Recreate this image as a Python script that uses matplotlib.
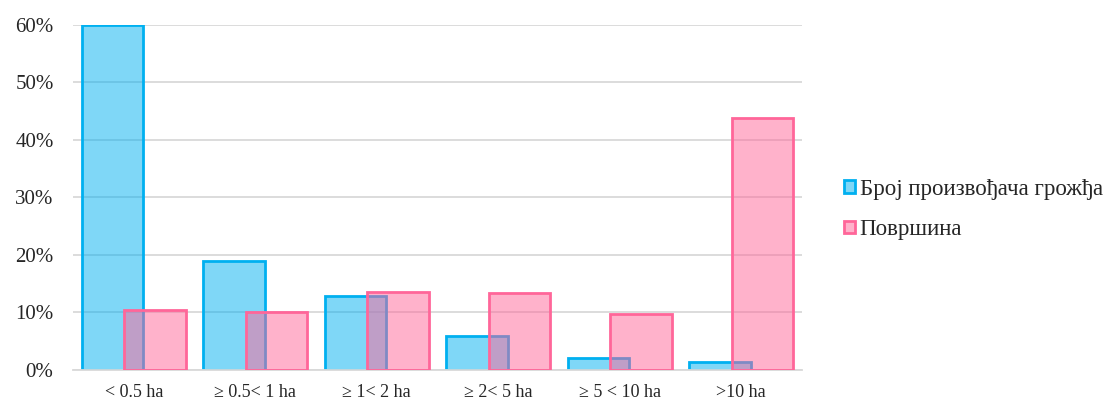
import matplotlib
matplotlib.use("Agg")
import matplotlib.pyplot as plt
import numpy as np
from matplotlib.ticker import FuncFormatter

categories = ["< 0.5 ha", "≥ 0.5< 1 ha", "≥ 1< 2 ha", "≥ 2< 5 ha", "≥ 5 < 10 ha", ">10 ha"]
producers = [60.0, 18.9, 12.9, 5.9, 2.0, 1.4]
area = [10.4, 10.1, 13.6, 13.3, 9.8, 43.8]
series_names = ["Број произвођача грожђа", "Површина"]

plt.rcParams["font.family"] = ["Liberation Serif", "DejaVu Serif"]

fig = plt.figure(figsize=(11.07, 3.99), dpi=100)
ax = fig.add_axes([0.066, 0.0727, 0.6585, 0.8653])

x = np.arange(len(categories))
width = 0.506
offset = 0.175

ax.bar(x - offset, producers, width, color=(0/255, 176/255, 240/255, 0.5),
       edgecolor="#00B0F0", linewidth=2, label=series_names[0], zorder=2)
ax.bar(x + offset, area, width, color=(1.0, 102/255, 153/255, 0.5),
       edgecolor="#FF6699", linewidth=2, label=series_names[1], zorder=3)

ax.set_xlim(-0.5, len(categories) - 0.5)
ax.set_ylim(0, 60)
ax.set_yticks(np.arange(0, 61, 10))
ax.yaxis.set_major_formatter(FuncFormatter(lambda v, p: f"{v:.0f}%"))
ax.set_xticks(x)
ax.set_xticklabels(categories, fontsize=13, color="#262626")
ax.tick_params(axis="y", labelsize=15, length=0, pad=14, labelcolor="#262626")
ax.tick_params(axis="x", length=0, pad=10)
ax.grid(axis="y", color="#D9D9D9", linewidth=1.3, zorder=0)
ax.set_axisbelow(True)
for s in ["top", "right", "left"]:
    ax.spines[s].set_visible(False)
ax.spines["bottom"].set_color("#D9D9D9")
ax.spines["bottom"].set_linewidth(1.3)

leg = ax.legend(loc="center left", bbox_to_anchor=(1.057, 0.465), frameon=False,
                fontsize=16.5, handlelength=0.5, handleheight=0.45, handletextpad=0.2,
                labelspacing=0.85, borderaxespad=0, borderpad=0)
for t in leg.get_texts():
    t.set_color("#262626")

fig.savefig("out.png", dpi=100)
